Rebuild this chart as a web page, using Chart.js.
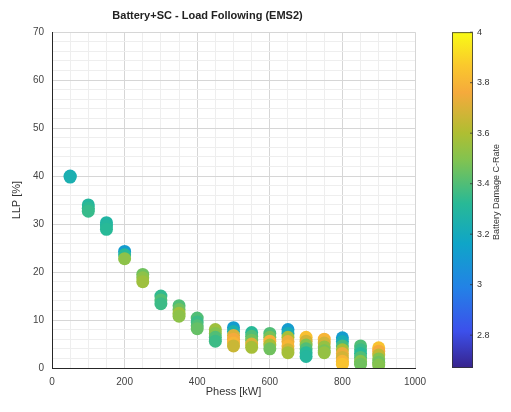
<!DOCTYPE html>
<html>
<head>
<meta charset="utf-8">
<script src="https://cdn.jsdelivr.net/npm/chart.js@4"></script>
<style>
  html, body { margin: 0; padding: 0; background: #fff; }
  #wrap { width: 511px; height: 412px; }
</style>
</head>
<body>
<div id="wrap"><canvas id="llpChart"></canvas></div>
<script>
// Battery+SC - Load Following (EMS2): LLP vs. Phess, coloured by battery damage C-rate

const pessLevels = [50, 100, 150, 200, 250, 300, 350, 400, 450, 500, 550, 600, 650, 700, 750, 800, 850, 900];

const llpByLevel = [
  [40.0, 39.8],
  [34.0, 33.3, 32.7],
  [30.3, 29.6, 28.9],
  [24.3, 23.6, 22.8],
  [19.5, 18.8, 18.0],
  [15.0, 14.2, 13.4],
  [13.0, 12.2, 11.4, 10.8],
  [10.4, 9.6, 8.8, 8.2],
  [8.0, 7.2, 6.4, 5.6],
  [8.4, 7.6, 6.8, 6.0, 5.2, 4.6],
  [7.4, 6.6, 5.8, 5.0, 4.3],
  [7.2, 6.4, 5.6, 4.8, 4.0],
  [8.0, 7.2, 6.4, 5.5, 4.6, 3.8, 3.2],
  [6.4, 5.6, 4.8, 4.0, 3.2, 2.4],
  [6.0, 5.2, 4.4, 3.6, 3.2],
  [6.3, 5.5, 4.6, 3.8, 3.0, 2.2, 1.4, 0.8],
  [4.6, 3.8, 3.0, 2.2, 1.4, 0.8],
  [4.2, 3.5, 2.7, 1.9, 1.2, 0.6]
];

const cRateByLevel = [
  [3.22, 3.24],
  [3.30, 3.33, 3.35],
  [3.28, 3.30, 3.32],
  [3.12, 3.32, 3.52],
  [3.46, 3.52, 3.56],
  [3.34, 3.40, 3.36],
  [3.40, 3.46, 3.56, 3.52],
  [3.40, 3.36, 3.40, 3.44],
  [3.56, 3.50, 3.40, 3.36],
  [3.12, 3.25, 3.70, 3.76, 3.80, 3.66],
  [3.32, 3.40, 3.46, 3.70, 3.58],
  [3.40, 3.48, 3.78, 3.58, 3.46],
  [3.12, 3.22, 3.58, 3.74, 3.80, 3.68, 3.58],
  [3.84, 3.68, 3.50, 3.40, 3.32, 3.30],
  [3.80, 3.68, 3.54, 3.48, 3.54],
  [3.12, 3.22, 3.38, 3.58, 3.74, 3.68, 3.80, 3.85],
  [3.40, 3.36, 3.32, 3.40, 3.50, 3.46],
  [3.85, 3.76, 3.64, 3.50, 3.46, 3.50]
];

const colorbarTicks = [2.8, 3, 3.2, 3.4, 3.6, 3.8, 4];
const cRateMin = 2.67;
const cRateMax = 4;

// parula colormap, sampled
const parulaStops = [
  [0.00, [55, 35, 140]],
  [0.11, [60, 80, 235]],
  [0.24, [35, 130, 230]],
  [0.37, [15, 165, 200]],
  [0.49, [40, 185, 150]],
  [0.62, [130, 195, 80]],
  [0.70, [175, 190, 50]],
  [0.82, [245, 170, 60]],
  [0.90, [250, 200, 45]],
  [1.00, [249, 251, 21]]
];

function parula(t) {
  t = Math.min(1, Math.max(0, t));
  for (let i = 1; i < parulaStops.length; i++) {
    const [t1, c1] = parulaStops[i];
    const [t0, c0] = parulaStops[i - 1];
    if (t <= t1) {
      const f = (t - t0) / (t1 - t0);
      const c = c0.map((v, k) => Math.round(v + (c1[k] - v) * f));
      return 'rgb(' + c.join(',') + ')';
    }
  }
  return 'rgb(249,251,21)';
}

const points = [];
const pointColors = [];
pessLevels.forEach((p, i) => {
  llpByLevel[i].forEach((llp, j) => {
    points.push({ x: p, y: llp });
    pointColors.push(parula((cRateByLevel[i][j] - cRateMin) / (cRateMax - cRateMin)));
  });
});

const FONT = "'Liberation Sans', Arial, sans-serif";

// colour bar on the right of the plot
const colorbarPlugin = {
  id: 'colorbar',
  afterDraw(chart) {
    const ctx = chart.ctx;
    const area = chart.chartArea;
    const x0 = area.right + 37;
    const w = 21;
    const top = area.top;
    const bottom = area.bottom;
    const grad = ctx.createLinearGradient(0, bottom, 0, top);
    parulaStops.forEach(([t, c]) => grad.addColorStop(t, 'rgb(' + c.join(',') + ')'));
    ctx.save();
    ctx.fillStyle = grad;
    ctx.fillRect(x0, top, w, bottom - top);
    ctx.strokeStyle = '#333';
    ctx.lineWidth = 0.8;
    ctx.strokeRect(x0 + 0.5, top + 0.5, w - 1, bottom - top - 1);

    ctx.fillStyle = '#333';
    ctx.font = '9px ' + FONT;
    ctx.textAlign = 'left';
    ctx.textBaseline = 'middle';
    colorbarTicks.forEach(v => {
      const y = bottom - (v - cRateMin) / (cRateMax - cRateMin) * (bottom - top);
      ctx.beginPath();
      ctx.moveTo(x0 + w - 3, y);
      ctx.lineTo(x0 + w, y);
      ctx.stroke();
      ctx.fillText(String(v), x0 + w + 4, y);
    });

    ctx.translate(x0 + w + 24, (top + bottom) / 2 - 8);
    ctx.rotate(-Math.PI / 2);
    ctx.textAlign = 'center';
    ctx.font = '9px ' + FONT;
    ctx.fillText('Battery Damage C-Rate', 0, 0);
    ctx.restore();
  }
};

const majorGrid = '#d6d6d6';
const minorGrid = '#eeeeee';

new Chart(document.getElementById('llpChart'), {
  type: 'scatter',
  data: {
    datasets: [{
      label: 'LLP',
      data: points,
      backgroundColor: pointColors,
      borderWidth: 0,
      pointRadius: 6.5,
      pointHoverRadius: 6.5
    }]
  },
  options: {
    responsive: true,
    maintainAspectRatio: false,
    animation: false,
    layout: { padding: { left: 0, right: 96, top: 0, bottom: 0 } },
    plugins: {
      legend: { display: false },
      tooltip: { enabled: false },
      title: {
        display: true,
        text: 'Battery+SC - Load Following (EMS2)',
        color: '#222',
        font: { family: FONT, size: 11, weight: 'bold' },
        padding: { top: 9, bottom: 10 }
      }
    },
    scales: {
      x: {
        type: 'linear',
        min: 0,
        max: 1000,
        afterFit(scale) { scale.height = 44; },
        border: { color: '#262626', width: 1 },
        grid: {
          drawTicks: false,
          color: c => (c.tick && c.tick.value % 200 === 0) ? majorGrid : minorGrid
        },
        ticks: {
          stepSize: 50,
          maxTicksLimit: 100,
          autoSkip: false,
          maxRotation: 0,
          padding: 8,
          color: '#444',
          font: { family: FONT, size: 10 },
          callback: v => (v % 200 === 0 ? v : '')
        },
        title: {
          display: true,
          text: 'Phess [kW]',
          color: '#333',
          font: { family: FONT, size: 11 },
          padding: { top: 0, bottom: 13 }
        }
      },
      y: {
        type: 'linear',
        min: 0,
        max: 70,
        afterFit(scale) { scale.width = 52; },
        border: { color: '#262626', width: 1 },
        grid: {
          drawTicks: false,
          color: c => (c.tick && c.tick.value % 10 === 0) ? majorGrid : minorGrid
        },
        ticks: {
          stepSize: 2,
          maxTicksLimit: 100,
          autoSkip: false,
          padding: 8,
          color: '#444',
          font: { family: FONT, size: 10 },
          callback: v => (v % 10 === 0 ? v : '')
        },
        title: {
          display: true,
          text: 'LLP [%]',
          color: '#333',
          font: { family: FONT, size: 11 },
          padding: { top: 10, bottom: 0 }
        }
      }
    }
  },
  plugins: [colorbarPlugin]
});
</script>
</body>
</html>
